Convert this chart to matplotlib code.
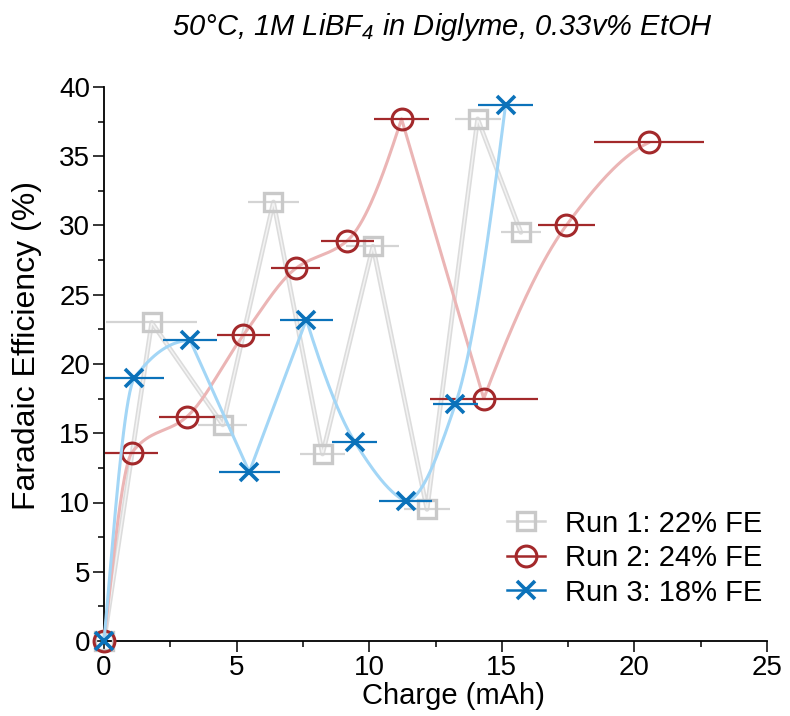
import numpy as np
import matplotlib
matplotlib.use("Agg")
import matplotlib.pyplot as plt
from matplotlib.lines import Line2D
from matplotlib.ticker import MultipleLocator

# ---- data: cumulative charge (mAh), Faradaic efficiency (%), charge uncertainty (mAh)
q_run1 = [0, 1.80, 4.48, 6.39, 8.24, 10.14, 12.18, 14.09, 15.72]
fe_run1 = [0, 23.0, 15.6, 31.7, 13.5, 28.5, 9.5, 37.7, 29.5]
dq_run1 = [0, 1.72, 0.92, 0.97, 0.85, 1.00, 0.88, 0.87, 0.75]

q_run2 = [0, 1.05, 3.13, 5.26, 7.23, 9.17, 11.22, 14.32, 17.43, 20.56]
fe_run2 = [0, 13.6, 16.2, 22.1, 26.9, 28.9, 37.7, 17.5, 30.0, 36.0]
dq_run2 = [0, 1.00, 1.04, 1.00, 0.92, 1.00, 1.04, 2.03, 1.07, 2.07]

q_run3 = [0, 1.15, 3.25, 5.48, 7.63, 9.45, 11.37, 13.25, 15.14]
fe_run3 = [0, 19.0, 21.7, 12.2, 23.2, 14.4, 10.1, 17.1, 38.7]
dq_run3 = [0, 1.10, 1.02, 1.16, 0.99, 0.85, 0.99, 0.85, 1.03]

run_labels = ["Run 1: 22% FE", "Run 2: 24% FE", "Run 3: 18% FE"]
title_text = r"50°C, 1M LiBF$_4$ in Diglyme, 0.33v% EtOH"
x_label = "Charge (mAh)"
y_label = "Faradaic Efficiency (%)"

FONT = "Liberation Sans"
plt.rcParams["font.family"] = [FONT, "DejaVu Sans"]
plt.rcParams["mathtext.fontset"] = "custom"
plt.rcParams["mathtext.rm"] = FONT + ":italic"
plt.rcParams["mathtext.it"] = FONT + ":italic"


def _pchip_slopes(x, y):
    h = np.diff(x)
    d = np.diff(y) / h
    n = len(x)
    m = np.zeros(n)
    if n == 2:
        m[:] = d[0]
        return m
    for k in range(1, n - 1):
        if d[k - 1] * d[k] <= 0:
            m[k] = 0.0
        else:
            w1 = 2 * h[k] + h[k - 1]
            w2 = h[k] + 2 * h[k - 1]
            m[k] = (w1 + w2) / (w1 / d[k - 1] + w2 / d[k])

    def end(h0, h1, d0, d1):
        s = ((2 * h0 + h1) * d0 - h0 * d1) / (h0 + h1)
        if np.sign(s) != np.sign(d0):
            return 0.0
        if np.sign(d0) != np.sign(d1) and abs(s) > abs(3 * d0):
            return 3 * d0
        return s

    m[0] = end(h[0], h[1], d[0], d[1])
    m[-1] = end(h[-1], h[-2], d[-1], d[-2])
    return m


def connector(x, y, per_seg=40):
    """Shape-preserving curve through the points; monotone stretches are
    smoothed, turning points are kept as corners."""
    x = np.asarray(x, float)
    y = np.asarray(y, float)
    dy = np.diff(y)
    cuts = [0] + [i for i in range(1, len(y) - 1) if dy[i - 1] * dy[i] < 0] + [len(y) - 1]
    xs, ys = [], []
    for a, b in zip(cuts[:-1], cuts[1:]):
        px, py = x[a:b + 1], y[a:b + 1]
        m = _pchip_slopes(px, py)
        for k in range(len(px) - 1):
            hk = px[k + 1] - px[k]
            t = np.linspace(0, 1, per_seg)
            h00 = 2 * t**3 - 3 * t**2 + 1
            h10 = t**3 - 2 * t**2 + t
            h01 = -2 * t**3 + 3 * t**2
            h11 = t**3 - t**2
            xs.append(px[k] + t * hk)
            ys.append(h00 * py[k] + h10 * hk * m[k] + h01 * py[k + 1] + h11 * hk * m[k + 1])
    return np.concatenate(xs), np.concatenate(ys)


fig = plt.figure(figsize=(7.9, 7.16), dpi=100)
ax = fig.add_axes([104 / 790, 1 - 641 / 716, (767 - 104) / 790, (641 - 87) / 716])

styles = [
    dict(q=q_run1, fe=fe_run1, dq=dq_run1, line="#e2e2e2", bar="#d4d4d4",
         mk="s", mc="#c9c9c9", ms=13.5, mew=2.4),
    dict(q=q_run2, fe=fe_run2, dq=dq_run2, line="#ebb5b5", bar="#a3292b",
         mk="o", mc="#a3292b", ms=15, mew=2.2),
    dict(q=q_run3, fe=fe_run3, dq=dq_run3, line="#a3d6f6", bar="#0b72ba",
         mk="x", mc="#0b72ba", ms=12.5, mew=2.6),
]

for i, s in enumerate(styles):
    z = 2 + i * 3
    cx, cy = connector(s["q"], s["fe"])
    if i == 0:
        ax.plot(cx, cy, color="#dcdcdc", lw=3.4, zorder=z, solid_capstyle="round", clip_on=False)
        ax.plot(cx, cy, color="#f3f3f3", lw=1.1, zorder=z, solid_capstyle="round", clip_on=False)
    else:
        ax.plot(cx, cy, color=s["line"], lw=2.2, zorder=z, solid_capstyle="round", clip_on=False)
    ax.errorbar(s["q"], s["fe"], xerr=s["dq"], fmt="none", ecolor=s["bar"],
                elinewidth=1.6, capsize=0, zorder=z + 1, clip_on=False)
    ax.plot(s["q"], s["fe"], ls="none", marker=s["mk"], ms=s["ms"],
            mfc="none", mec=s["mc"], mew=s["mew"], zorder=z + 2, clip_on=False)

ax.set_xlim(0, 25)
ax.set_ylim(0, 40)
ax.xaxis.set_major_locator(MultipleLocator(5))
ax.xaxis.set_minor_locator(MultipleLocator(2.5))
ax.yaxis.set_major_locator(MultipleLocator(5))
ax.yaxis.set_minor_locator(MultipleLocator(2.5))
for side in ("top", "right"):
    ax.spines[side].set_visible(False)
for side in ("left", "bottom"):
    ax.spines[side].set_linewidth(1.3)
ax.tick_params(which="major", direction="out", length=8, width=1.1, labelsize=20)
ax.tick_params(which="minor", direction="out", length=4, width=1.1)
ax.tick_params(axis="x", which="major", pad=2)
ax.tick_params(axis="y", which="major", pad=2)

ax.set_xlabel(x_label, fontsize=21)
ax.set_ylabel(y_label, fontsize=23)
ax.xaxis.set_label_coords(0.527, -0.074)
ax.yaxis.set_label_coords(-0.093, 0.534)
fig.text(0.56, 0.962, title_text, fontsize=21, style="italic", ha="center", va="center")

handles = [
    Line2D([], [], color="#d4d4d4", lw=1.8, marker="s", ms=13.5, mfc="none", mec="#c9c9c9", mew=2.4),
    Line2D([], [], color="#a3292b", lw=1.8, marker="o", ms=15, mfc="none", mec="#a3292b", mew=2.2),
    Line2D([], [], color="#0b72ba", lw=1.8, marker="x", ms=12.5, mfc="none", mec="#0b72ba", mew=2.6),
]
ax.legend(handles, run_labels, loc="upper left", bbox_to_anchor=(0.608, 0.237),
          frameon=False, fontsize=21, handlelength=1.3, handletextpad=0.7,
          labelspacing=0.22, borderpad=0, borderaxespad=0)

fig.savefig("out.png", dpi=100)
